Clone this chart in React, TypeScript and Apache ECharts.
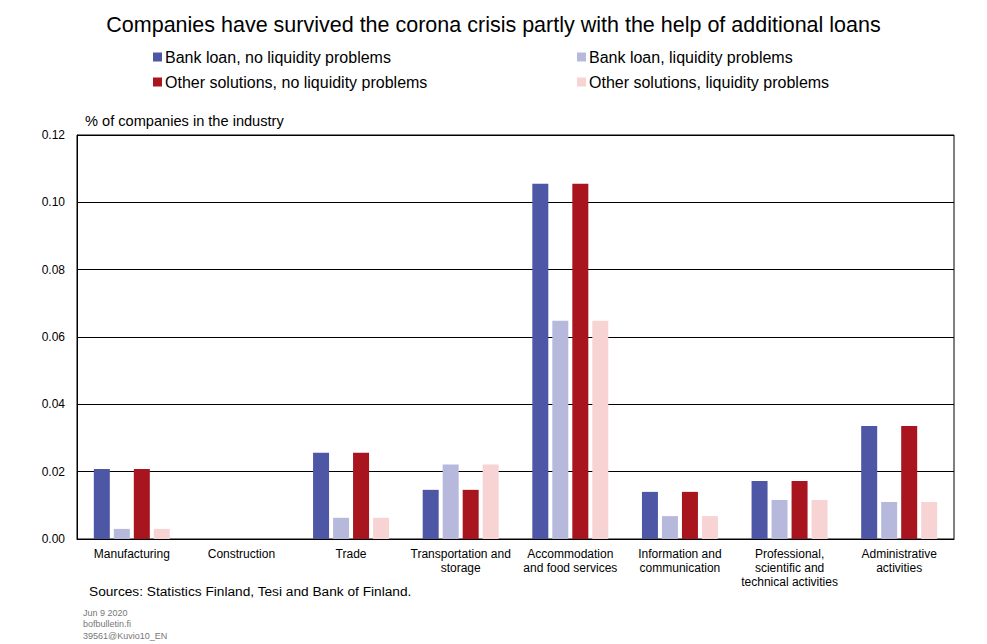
import React, { useEffect, useRef } from "react";
import * as echarts from "echarts";

const categories = [
  "Manufacturing",
  "Construction",
  "Trade",
  "Transportation and\nstorage",
  "Accommodation\nand food services",
  "Information and\ncommunication",
  "Professional,\nscientific and\ntechnical activities",
  "Administrative\nactivities",
];
const seriesNames = [
  "Bank loan, no liquidity problems",
  "Bank loan, liquidity problems",
  "Other solutions, no liquidity problems",
  "Other solutions, liquidity problems",
];
const bankNoProb = [0.0208, 0, 0.0256, 0.0146, 0.1055, 0.014, 0.0172, 0.0336];
const bankProb = [0.003, 0, 0.0063, 0.0221, 0.0648, 0.0068, 0.0116, 0.011];
const otherNoProb = [0.0208, 0, 0.0256, 0.0146, 0.1055, 0.014, 0.0172, 0.0336];
const otherProb = [0.003, 0, 0.0063, 0.0221, 0.0648, 0.0068, 0.0116, 0.011];
const colors = ["#4E57A6", "#B6B9DC", "#A8151F", "#F7D3D4"];
const yAxisName = "% of companies in the industry";

export default function App() {
  const ref = useRef<HTMLDivElement>(null);
  useEffect(() => {
    if (!ref.current) return;
    const chart = echarts.init(ref.current, null, { renderer: "svg" });
    const font = "'Liberation Sans', Arial, sans-serif";
    const values = [bankNoProb, bankProb, otherNoProb, otherProb];
    const legendBase = {
      orient: "vertical",
      top: 44,
      itemWidth: 9,
      itemHeight: 9,
      itemGap: 9,
      icon: "rect",
      textStyle: { fontSize: 16, color: "#000", fontFamily: font, padding: [0, 0, 0, -2] },
    };
    chart.setOption({
      animation: false,
      textStyle: { fontFamily: font },
      title: {
        text: "Companies have survived the corona crisis partly with the help of additional loans",
        left: "center",
        top: 9,
        textStyle: { fontSize: 21.5, fontWeight: "normal", color: "#000", fontFamily: font },
      },
      legend: [
        { ...legendBase, data: [seriesNames[0], seriesNames[2]], left: 148 },
        { ...legendBase, data: [seriesNames[1], seriesNames[3]], left: 572 },
      ],
      grid: {
        left: 77,
        right: 33,
        top: 135,
        bottom: 105,
        show: true,
        borderColor: "#000",
        borderWidth: 1,
        containLabel: false,
      },
      xAxis: {
        type: "category",
        data: categories,
        axisLine: { lineStyle: { color: "#000", width: 1 } },
        axisTick: { show: false },
        axisLabel: { color: "#000", fontSize: 12, fontFamily: font, interval: 0, margin: 8, lineHeight: 14 },
      },
      yAxis: {
        type: "value",
        min: 0,
        max: 0.12,
        interval: 0.02,
        axisLine: { show: true, lineStyle: { color: "#000" } },
        axisTick: { show: false },
        axisLabel: { color: "#000", fontSize: 12, fontFamily: font, margin: 12, formatter: (v: number) => v.toFixed(2) },
        splitLine: { show: true, lineStyle: { color: "#000", width: 1 } },
      },
      series: seriesNames.map((name, i) => ({
        name,
        type: "bar",
        data: values[i],
        barWidth: 16,
        barGap: "25%",
        itemStyle: { color: colors[i] },
      })),
      graphic: [
        {
          type: "text",
          left: 85,
          top: 113,
          style: { text: yAxisName, fontSize: 14.6, fill: "#000", fontFamily: font },
        },
        {
          type: "text",
          left: 89,
          top: 584,
          style: { text: "Sources: Statistics Finland, Tesi and Bank of Finland.", fontSize: 13.7, fill: "#000", fontFamily: font },
        },
        {
          type: "text",
          left: 83,
          top: 607,
          style: { text: "Jun 9 2020\nbofbulletin.fi\n39561@Kuvio10_EN", fontSize: 9, lineHeight: 11.5, fill: "#777", fontFamily: font },
        },
      ],
    });
    return () => chart.dispose();
  }, []);
  return <div ref={ref} style={{ width: 987, height: 644, position: "absolute", left: 0, top: 0 }} />;
}
